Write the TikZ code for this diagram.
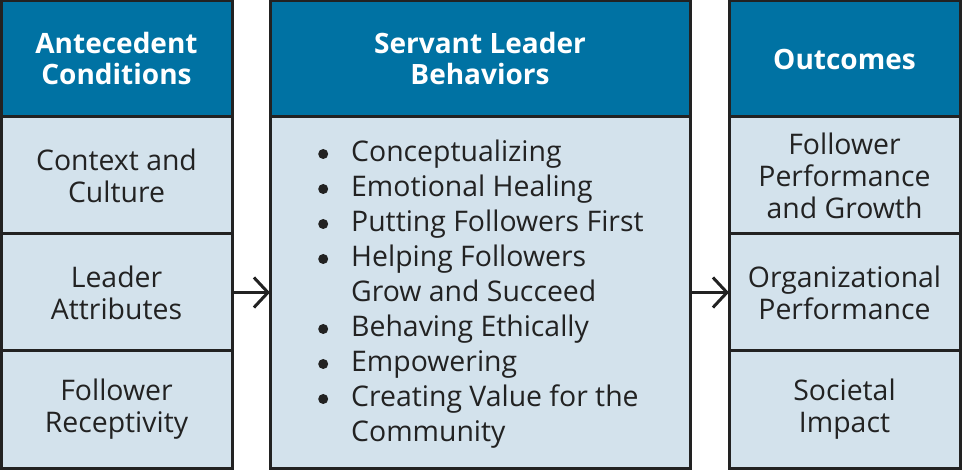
\documentclass[tikz,border=0pt]{standalone}
\usepackage{fontspec}
\setmainfont{Open Sans}
\usetikzlibrary{positioning,arrows.meta}

\definecolor{hdrblue}{HTML}{0072A3}
\definecolor{cellblue}{HTML}{D3E2EC}
\definecolor{edgegray}{HTML}{222222}

\tikzstyle{hdrbox} = [draw=edgegray, fill=hdrblue, line width=3pt, text=white,
    rectangle, align=center, inner sep=0pt, outer sep=0pt,
    font=\fontsize{28}{31}\selectfont\bfseries]
\tikzstyle{cellbox} = [draw=edgegray, fill=cellblue, line width=3pt, text=edgegray,
    rectangle, align=center, inner sep=0pt, outer sep=0pt, minimum width=231pt,
    minimum height=117pt, font=\fontsize{28.4}{32}\selectfont]
\tikzstyle{flow} = [draw=edgegray, line width=3pt, -{Straight Barb[length=14pt,width=30pt]}]
\newcommand{\servdot}{\raisebox{2.5pt}{\tikz\fill[edgegray] (0,0) circle (5pt);}}

\begin{document}
\begin{tikzpicture}[x=1pt,y=-1pt]
\useasboundingbox (0,0) rectangle (962,470);
% left column
\node [hdrbox, minimum width=231pt, minimum height=116pt] (antehdr) at (116.5,59) {Antecedent\\Conditions};
\node [cellbox, below=0pt of antehdr] (context) {Context and\\Culture};
\node [cellbox, below=0pt of context] (attrib) {Leader\\Attributes};
\node [cellbox, below=0pt of attrib] (recept) {Follower\\Receptivity};
% middle column
\node [hdrbox, minimum width=420pt, minimum height=116pt] (servhdr) at (480,59) {Servant Leader\\Behaviors};
\node [cellbox, minimum width=420pt, minimum height=351pt, below=0pt of servhdr] (servbody) {};
\node [anchor=west, inner sep=0pt, text=edgegray, font=\fontsize{28.4}{35}\selectfont] (servlist)
    at ([xshift=48pt,yshift=-2pt]servbody.west) {%
    \begin{tabular}{@{}l@{\hspace{23pt}}l@{}}
    \servdot & Conceptualizing\\
    \servdot & Emotional Healing\\
    \servdot & Putting Followers First\\
    \servdot & Helping Followers\\
             & Grow and Succeed\\
    \servdot & Behaving Ethically\\
    \servdot & Empowering\\
    \servdot & Creating Value for the\\
             & Community
    \end{tabular}};
% right column
\node [hdrbox, minimum width=231pt, minimum height=116pt] (outhdr) at (844.5,59) {Outcomes};
\node [cellbox, below=0pt of outhdr] (growth) {Follower\\Performance\\and Growth};
\node [cellbox, below=0pt of growth] (orgperf) {Organizational\\Performance};
\node [cellbox, below=0pt of orgperf] (impact) {Societal\\Impact};
% arrows
\draw [flow] (attrib.east) -- (servbody.west);
\draw [flow] (servbody.east) -- (orgperf.west);
\end{tikzpicture}
\end{document}
